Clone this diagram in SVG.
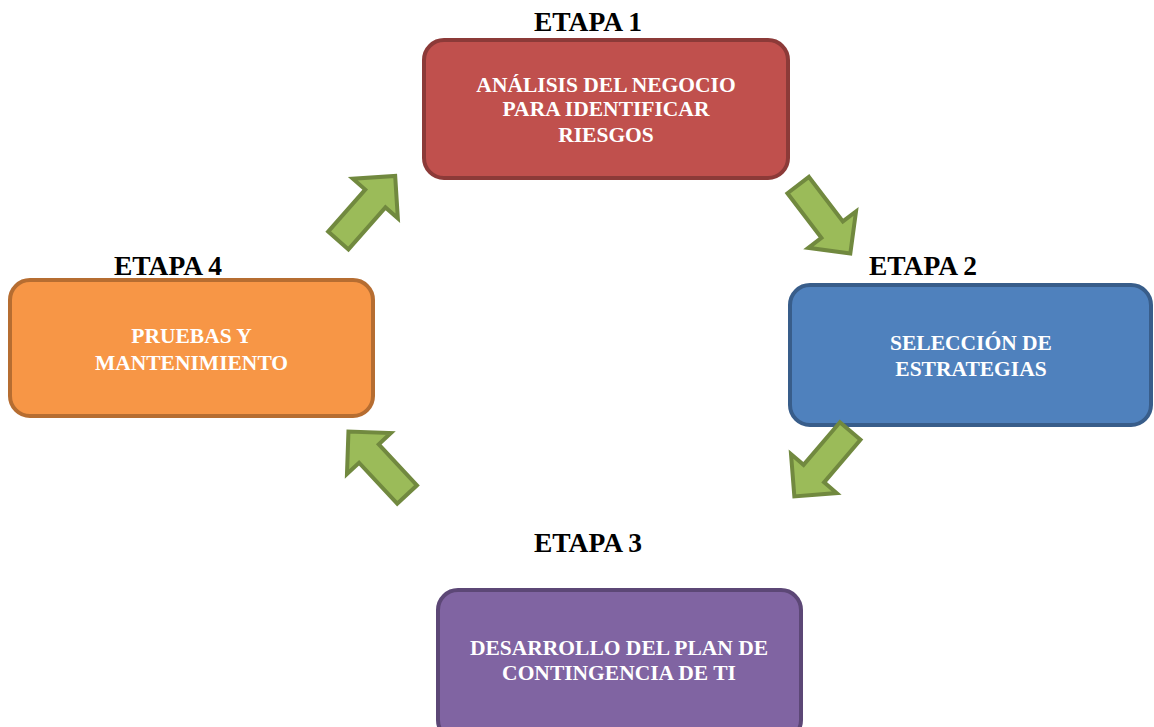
<svg xmlns="http://www.w3.org/2000/svg" width="1154" height="727" viewBox="0 0 1154 727">
<style>
.box{stroke-width:4}
.t{font-family:"Liberation Serif","Times New Roman",serif;font-weight:bold;text-anchor:middle}
.title{font-size:27.5px;fill:#000}
.lbl{font-size:21.5px;fill:#fff}
.arr{fill:#9BBB59;stroke:#71893F;stroke-width:4;stroke-linejoin:miter}
</style>
<defs>
<polygon id="arrow" points="0,-13.5 56,-13.5 56,-30 86,0 56,30 56,13.5 0,13.5"/>
</defs>
<rect width="1154" height="727" fill="#fff"/>
<g id="etapa1">
<text class="t title" x="588" y="31">ETAPA 1</text>
<rect class="box" x="424" y="40" width="364" height="138" rx="20" fill="#C0504D" stroke="#8C3A38"/>
<text class="t lbl" x="606" y="92">ANÁLISIS DEL NEGOCIO</text>
<text class="t lbl" x="606" y="116">PARA IDENTIFICAR</text>
<text class="t lbl" x="606" y="142">RIESGOS</text>
</g>
<g id="etapa2">
<text class="t title" x="923" y="275">ETAPA 2</text>
<rect class="box" x="790" y="285" width="361" height="140" rx="20" fill="#4F81BD" stroke="#385D8A"/>
<text class="t lbl" x="971" y="350">SELECCIÓN DE</text>
<text class="t lbl" x="971" y="376">ESTRATEGIAS</text>
</g>
<g id="etapa3">
<text class="t title" x="588" y="552">ETAPA 3</text>
<rect class="box" x="438" y="590" width="363" height="150" rx="20" fill="#8064A2" stroke="#5C4776"/>
<text class="t lbl" x="619" y="655">DESARROLLO DEL PLAN DE</text>
<text class="t lbl" x="619" y="680">CONTINGENCIA DE TI</text>
</g>
<g id="etapa4">
<text class="t title" x="168" y="275">ETAPA 4</text>
<rect class="box" x="10" y="280" width="363" height="136" rx="20" fill="#F79646" stroke="#B66D31"/>
<text class="t lbl" x="191.5" y="343">PRUEBAS Y</text>
<text class="t lbl" x="191.5" y="370">MANTENIMIENTO</text>
</g>
<g id="connectors">
<use href="#arrow" class="arr" transform="translate(338.3,240.5) rotate(-48.6)"/>
<use href="#arrow" class="arr" transform="translate(798.2,185.1) rotate(52.7)"/>
<use href="#arrow" class="arr" transform="translate(850.2,431) rotate(130.5)"/>
<use href="#arrow" class="arr" transform="translate(407.1,494.5) rotate(-133)"/>
</g>
</svg>
